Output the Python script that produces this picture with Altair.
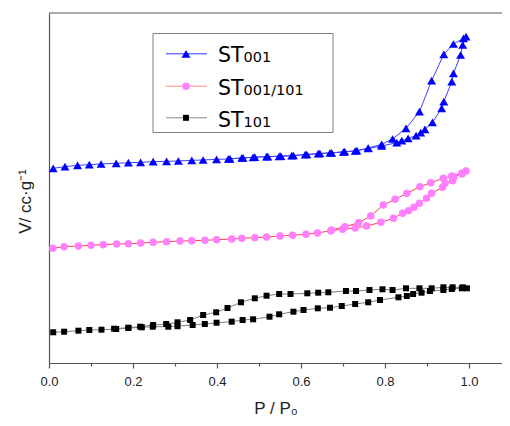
import altair as alt
import pandas as pd

# ---------------- data ----------------
series_names = ["ST001", "ST001/101", "ST101"]

st001_ads_p = [0.010, 0.038, 0.068, 0.096, 0.124, 0.160, 0.189, 0.218, 0.248, 0.280, 0.308, 0.340,
               0.367, 0.399, 0.427, 0.459, 0.486, 0.518, 0.548, 0.578, 0.610, 0.641, 0.669, 0.701,
               0.729, 0.760, 0.792, 0.828, 0.840, 0.855, 0.874, 0.885, 0.895, 0.913, 0.935, 0.940,
               0.959, 0.963, 0.980, 0.985, 0.993]
st001_ads_v = [194.7, 196.3, 197.7, 198.3, 199.0, 199.7, 200.3, 200.7, 201.3, 201.7, 202.0, 202.7,
               203.0, 203.7, 204.0, 205.0, 205.7, 206.3, 206.7, 207.3, 208.3, 209.3, 210.0, 211.0,
               212.0, 214.5, 217.0, 220.3, 222.3, 224.7, 227.3, 230.3, 233.7, 240.7, 254.7, 261.3,
               281.3, 289.7, 308.0, 318.0, 326.3]
st001_des_p = [0.987, 0.963, 0.940, 0.911, 0.882, 0.850, 0.818, 0.792, 0.760, 0.733, 0.704, 0.673,
               0.645, 0.614, 0.582, 0.552, 0.521, 0.490, 0.462, 0.431]
st001_des_v = [324.7, 319.0, 308.7, 282.3, 251.3, 234.7, 224.0, 218.7, 215.0, 212.3, 211.3, 210.2,
               209.5, 208.5, 207.5, 206.8, 206.4, 205.8, 205.1, 204.2]

mix_ads_p = [0.009, 0.036, 0.070, 0.100, 0.129, 0.161, 0.189, 0.218, 0.248, 0.280, 0.312, 0.340,
             0.371, 0.399, 0.435, 0.459, 0.490, 0.518, 0.550, 0.580, 0.612, 0.639, 0.671, 0.699,
             0.729, 0.756, 0.790, 0.820, 0.842, 0.856, 0.869, 0.882, 0.899, 0.911, 0.937, 0.943,
             0.961, 0.964, 0.983, 0.993]
mix_ads_v = [114.7, 116.3, 117.0, 117.7, 118.3, 119.0, 119.3, 120.0, 120.7, 121.3, 122.0, 122.3,
             122.7, 123.3, 124.0, 124.7, 125.3, 126.0, 127.0, 127.7, 128.7, 130.0, 132.3, 133.7,
             135.0, 137.0, 140.7, 144.7, 149.7, 152.3, 155.7, 159.7, 164.7, 169.7, 175.7, 179.7,
             182.3, 186.3, 189.0, 192.0]
mix_des_p = [0.983, 0.959, 0.939, 0.909, 0.883, 0.852, 0.824, 0.796, 0.766, 0.737, 0.705, 0.673]
mix_des_v = [189.7, 187.0, 184.7, 180.3, 176.3, 169.7, 163.7, 158.0, 147.0, 140.3, 136.3, 133.0]

st101_ads_p = [0.010, 0.036, 0.070, 0.096, 0.125, 0.160, 0.189, 0.221, 0.247, 0.284, 0.306, 0.342,
               0.371, 0.399, 0.435, 0.461, 0.486, 0.525, 0.548, 0.582, 0.606, 0.640, 0.669, 0.697,
               0.729, 0.760, 0.788, 0.832, 0.852, 0.867, 0.887, 0.907, 0.939, 0.959, 0.983, 0.995]
st101_ads_v = [30.7, 31.3, 32.3, 33.0, 33.3, 34.0, 35.0, 35.7, 36.3, 36.3, 36.8, 38.0,
               39.0, 40.3, 41.3, 43.0, 43.7, 46.3, 48.7, 51.3, 53.0, 54.7, 55.3, 57.0,
               59.0, 60.7, 63.0, 65.7, 67.0, 69.0, 70.3, 72.0, 73.0, 74.0, 74.7, 74.7]
st101_des_p = [0.985, 0.961, 0.939, 0.911, 0.882, 0.850, 0.818, 0.794, 0.763, 0.731, 0.707, 0.665,
               0.641, 0.615, 0.575, 0.548, 0.518, 0.490, 0.457, 0.425, 0.398, 0.367, 0.336, 0.306,
               0.279, 0.248, 0.217, 0.189, 0.155]
st101_des_v = [75.7, 75.7, 75.7, 74.7, 74.7, 74.7, 73.0, 73.7, 73.0, 72.0, 72.0, 70.7,
               70.3, 69.7, 69.0, 69.0, 67.3, 64.7, 60.7, 55.0, 50.7, 48.0, 43.0, 40.7,
               39.0, 38.0, 36.3, 35.3, 34.3]

x_ticks = [0.0, 0.1, 0.2, 0.3, 0.4, 0.5, 0.6, 0.7, 0.8, 0.9, 1.0]

# ---------------- styles ----------------
styles = {
    "ST001": dict(shape="triangle-up", mcolor="#0000ff", lcolor="#4040ff", size=80),
    "ST001/101": dict(shape="circle", mcolor="#ff80ff", lcolor="#ff4040", size=56),
    "ST101": dict(shape="square", mcolor="#000000", lcolor="#808080", size=36),
}
legend_line = {"ST001": "#3030ff", "ST001/101": "#ff8888", "ST101": "#888888"}

W, H = 453, 350
FONT = "Liberation Sans"
AX = "#555555"

x_scale = alt.Scale(domain=[0, W / 420.0], nice=False, zero=False)
y_scale = alt.Scale(domain=[0, H], nice=False, zero=False)

x_axis = alt.Axis(
    values=x_ticks,
    labelExpr="round(datum.value*10) % 2 == 0 ? format(datum.value, '.1f') : ''",
    tickSize={"condition": {"test": "round(datum.value*10) % 2 == 1", "value": 3}, "value": 5},
    grid=False, title="P / P₀", labelFontSize=13, titleFontSize=17, labelPadding=7,
    titlePadding=12, titleFontWeight="normal", labelFlush=False,
)
y_axis = alt.Axis(
    labels=False, ticks=False, grid=False, title="V/ cc·g⁻¹", titleFontSize=17,
    titleFontWeight="normal", titleX=-19, titleY=188, titleAngle=-90,
    titleAlign="center", titleBaseline="alphabetic",
)


def make_df(ads_p, ads_v, des_p, des_v):
    p = list(ads_p) + list(des_p)
    v = list(ads_v) + list(des_v)
    return pd.DataFrame({"p": p, "v": v, "idx": list(range(len(p)))})


frames = {
    "ST001": make_df(st001_ads_p, st001_ads_v, st001_des_p, st001_des_v),
    "ST001/101": make_df(mix_ads_p, mix_ads_v, mix_des_p, mix_des_v),
    "ST101": make_df(st101_ads_p, st101_ads_v, st101_des_p, st101_des_v),
}

layers = []
for name in ["ST101", "ST001/101", "ST001"]:
    st = styles[name]
    df = frames[name]
    base = alt.Chart(df).encode(
        x=alt.X("p:Q", scale=x_scale, axis=x_axis),
        y=alt.Y("v:Q", scale=y_scale, axis=y_axis),
    )
    layers.append(base.mark_line(color=st["lcolor"], strokeWidth=1).encode(order="idx:Q"))
    layers.append(base.mark_point(shape=st["shape"], filled=True, color=st["mcolor"],
                                  size=st["size"], opacity=1))

one = pd.DataFrame({"a": [0]})

# top frame line (right side of the frame lies outside the picture)
layers.append(alt.Chart(one).mark_rule(color=AX, strokeWidth=1.2).encode(
    x=alt.value(0), x2=alt.value(W), y=alt.value(0)))

# ---------------- custom legend (decoration) ----------------
layers.append(alt.Chart(one).mark_rect(fill="white", stroke="#808080", strokeWidth=1).encode(
    x=alt.value(104), x2=alt.value(284), y=alt.value(20.5), y2=alt.value(119.5)))

rows_marker_y = [40.8, 73.2, 104.8]
rows_base_y = [49.2, 81.5, 113.5]
for name, my, by in zip(series_names, rows_marker_y, rows_base_y):
    st = styles[name]
    layers.append(alt.Chart(one).mark_rule(color=legend_line[name], strokeWidth=1).encode(
        x=alt.value(117), x2=alt.value(158), y=alt.value(my)))
    layers.append(alt.Chart(one).mark_point(shape=st["shape"], filled=True, color=st["mcolor"],
                                            size=st["size"], opacity=1).encode(
        x=alt.value(137), y=alt.value(my)))
    layers.append(alt.Chart(one).mark_text(text="ST", font="DejaVu Sans", fontSize=20.5,
                                           align="left", baseline="alphabetic", color="black").encode(
        x=alt.value(169), y=alt.value(by)))
    layers.append(alt.Chart(one).mark_text(text=name[2:], font="DejaVu Sans", fontSize=14.5,
                                           align="left", baseline="alphabetic", color="black").encode(
        x=alt.value(194.5), y=alt.value(by)))

chart = alt.layer(*layers).properties(
    width=W, height=H,
    autosize=alt.AutoSizeParams(type="none"),
    padding={"left": 41, "top": 5, "right": 0, "bottom": 55},
).configure_view(stroke=None).configure_axis(
    domainColor=AX, domainWidth=1.2, tickColor=AX, tickWidth=1.2,
    labelFont=FONT, titleFont=FONT, labelColor="#222222", titleColor="#222222",
)

chart.save("out.html", embed_options={"renderer": "svg", "actions": False})
